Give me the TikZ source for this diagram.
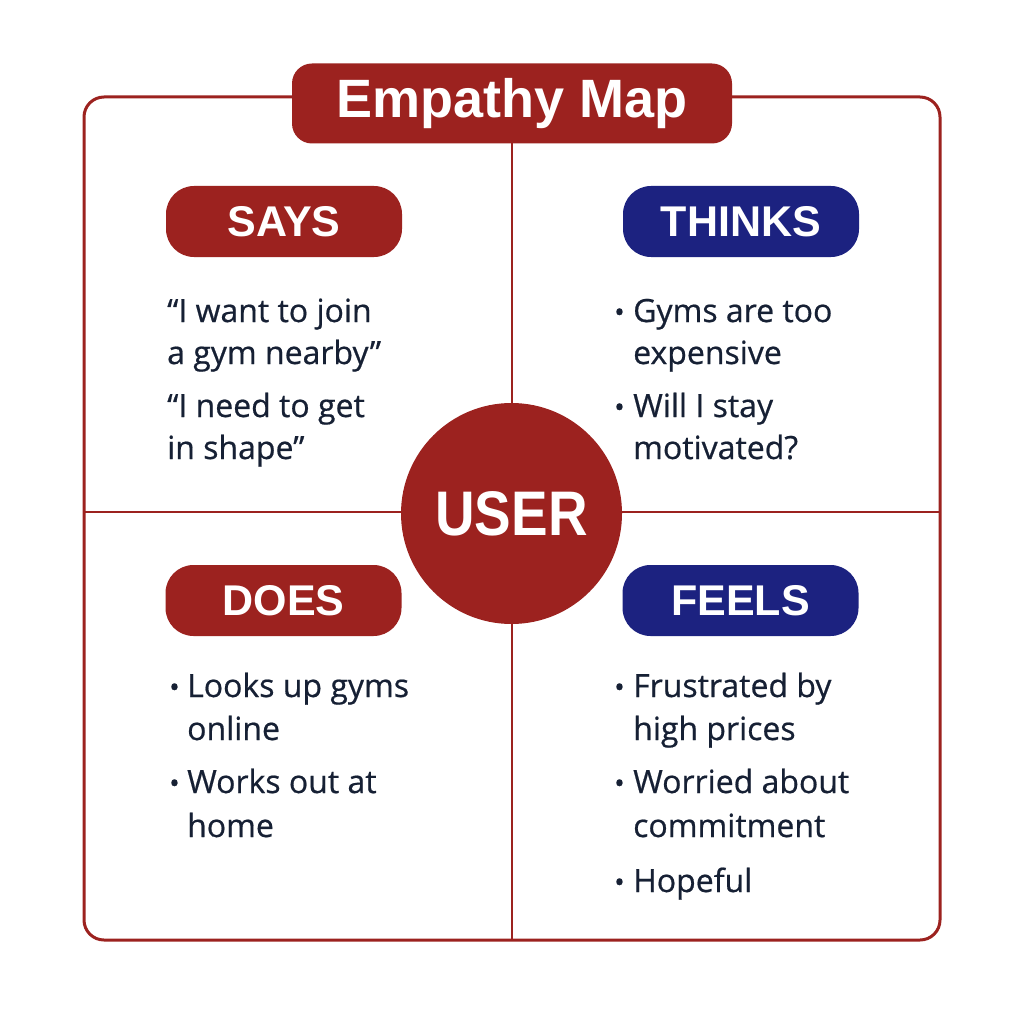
\documentclass[tikz,border=0pt]{standalone}
\usepackage{fontspec}
\usepackage{graphicx}
\setmainfont{Open Sans}
\newfontfamily\bodyfont{Open Sans}[FakeBold=0.6]
\newfontfamily\headfont{Liberation Sans}
\definecolor{mapred}{RGB}{156,34,31}
\definecolor{mapblue}{RGB}{28,34,128}
\definecolor{ink}{RGB}{22,32,52}
\begin{document}
\begin{tikzpicture}[x=1pt,y=-1pt,
  frame/.style={draw=mapred, line width=3pt, rounded corners=20pt},
  divider/.style={draw=mapred, line width=2pt},
  pill/.style={rounded corners=28pt, text=white, inner sep=0pt,
    minimum width=236pt, minimum height=71pt,
    font=\headfont\bfseries\fontsize{43}{43}\selectfont},
  redpill/.style={pill, fill=mapred},
  bluepill/.style={pill, fill=mapblue},
  txt/.style={anchor=base west, text=ink, inner sep=0pt,
    font=\bodyfont\fontsize{32}{36}\selectfont},
  bul/.style={anchor=base west, text=ink, inner sep=0pt,
    font=\bodyfont\fontsize{28}{36}\selectfont}
]
\useasboundingbox[fill=white] (0,0) rectangle (1024,1024);
% outer frame
\draw[frame] (84,97) rectangle (940,940);
% dividers
\coordinate (top) at (512,143);
\coordinate (bottom) at (512,940);
\coordinate (left) at (84,512);
\coordinate (right) at (940,512);
\draw[divider] (top) -- (bottom);
\draw[divider] (left) -- (right);
% title
\node[fill=mapred, rounded corners=20pt, minimum width=440pt, minimum height=80pt,
  inner sep=0pt, text=white, font=\headfont\bfseries\fontsize{54}{54}\selectfont]
  (title) at (512,103.5) {Empathy Map};
% user circle
\node[circle, fill=mapred, minimum size=221pt, inner sep=0pt, text=white,
  font=\headfont\bfseries\fontsize{63}{63}\selectfont]
  (user) at (511.5,513.5) {\scalebox{0.87}[1]{USER}};
% pills
\node[redpill] (says) at (284,221.5) {SAYS};
\node[bluepill] (thinks) at (741,221.5) {THINKS};
\node[redpill] (does) at (283.5,600.5) {DOES};
\node[bluepill] (feels) at (740.5,600.5) {FEELS};
% SAYS text
\node[txt] (s1) at (167,322) {“I want to join};
\node[txt] (s2) at (167,364) {a gym nearby”};
\node[txt] (s3) at (167,417) {“I need to get};
\node[txt] (s4) at (167,459) {in shape”};
% THINKS text
\node[bul] (tb1) at (614,322) {•};
\node[txt] (t1) at (633,322) {Gyms are too};
\node[txt] (t2) at (633,364) {expensive};
\node[bul] (tb2) at (614,417) {•};
\node[txt] (t3) at (633,417) {Will I stay};
\node[txt] (t4) at (633,459) {motivated?};
% DOES text
\node[bul] (db1) at (169,697) {•};
\node[txt] (d1) at (187,697) {Looks up gyms};
\node[txt] (d2) at (187,740) {online};
\node[bul] (db2) at (169,793) {•};
\node[txt] (d3) at (187,793) {Works out at};
\node[txt] (d4) at (187,837) {home};
% FEELS text
\node[bul] (fb1) at (614,697) {•};
\node[txt] (f1) at (633,697) {Frustrated by};
\node[txt] (f2) at (633,740) {high prices};
\node[bul] (fb2) at (614,793) {•};
\node[txt] (f3) at (633,793) {Worried about};
\node[txt] (f4) at (633,837) {commitment};
\node[bul] (fb3) at (614,892) {•};
\node[txt] (f5) at (633,892) {Hopeful};
\end{tikzpicture}
\end{document}
